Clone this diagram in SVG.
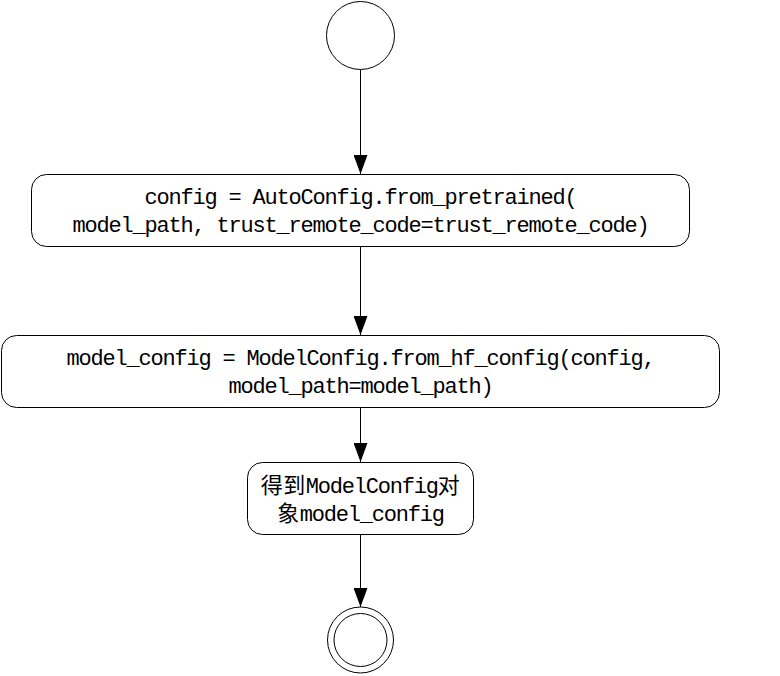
<svg xmlns="http://www.w3.org/2000/svg" width="780" height="676" viewBox="0 0 780 676">
<defs>
<style>
.node{fill:#fff;stroke:#000;stroke-width:1}
.lbl{font-family:"Liberation Mono","Noto Sans CJK SC",monospace;font-size:22px;letter-spacing:-1.2px;fill:#000;text-anchor:middle}
.cjk{font-family:"Noto Sans CJK SC",sans-serif;font-size:22px;letter-spacing:0.5px}
.edge{stroke:#000;stroke-width:1;fill:none}
</style>
<marker id="arr" viewBox="0 0 20 14" refX="19" refY="7" markerWidth="20" markerHeight="14" markerUnits="userSpaceOnUse" orient="auto">
<path d="M0,0 L19,7 L0,14 Z" fill="#000"/>
</marker>
</defs>
<rect width="780" height="676" fill="#fff"/>
<g id="edges">
<line class="edge" x1="360.5" y1="69.5" x2="360.5" y2="174" marker-end="url(#arr)"/>
<line class="edge" x1="360.5" y1="247" x2="360.5" y2="335" marker-end="url(#arr)"/>
<line class="edge" x1="360.5" y1="408" x2="360.5" y2="462" marker-end="url(#arr)"/>
<line class="edge" x1="360.5" y1="535" x2="360.5" y2="607" marker-end="url(#arr)"/>
</g>
<g id="start">
<circle class="node" cx="360.5" cy="35.5" r="34"/>
</g>
<g id="n1">
<rect class="node" x="31.5" y="174.5" width="658" height="72" rx="15" ry="15"/>
<text class="lbl" x="360.5" y="204">config = AutoConfig.from_pretrained(</text>
<text class="lbl" x="360.5" y="232">model_path, trust_remote_code=trust_remote_code)</text>
</g>
<g id="n2">
<rect class="node" x="1.5" y="335.5" width="718" height="72" rx="15" ry="15"/>
<text class="lbl" x="360.5" y="365">model_config = ModelConfig.from_hf_config(config,</text>
<text class="lbl" x="360.5" y="393">model_path=model_path)</text>
</g>
<g id="n3">
<rect class="node" x="247.5" y="462.5" width="226" height="72" rx="15" ry="15"/>
<text class="lbl" x="360.5" y="493"><tspan class="cjk">得到</tspan>ModelConfig<tspan class="cjk">对</tspan></text>
<text class="lbl" x="360.5" y="521"><tspan class="cjk">象</tspan>model_config</text>
</g>
<g id="end">
<circle class="node" cx="360.5" cy="640" r="33"/>
<circle class="node" cx="360.5" cy="640" r="26.5"/>
</g>
</svg>
